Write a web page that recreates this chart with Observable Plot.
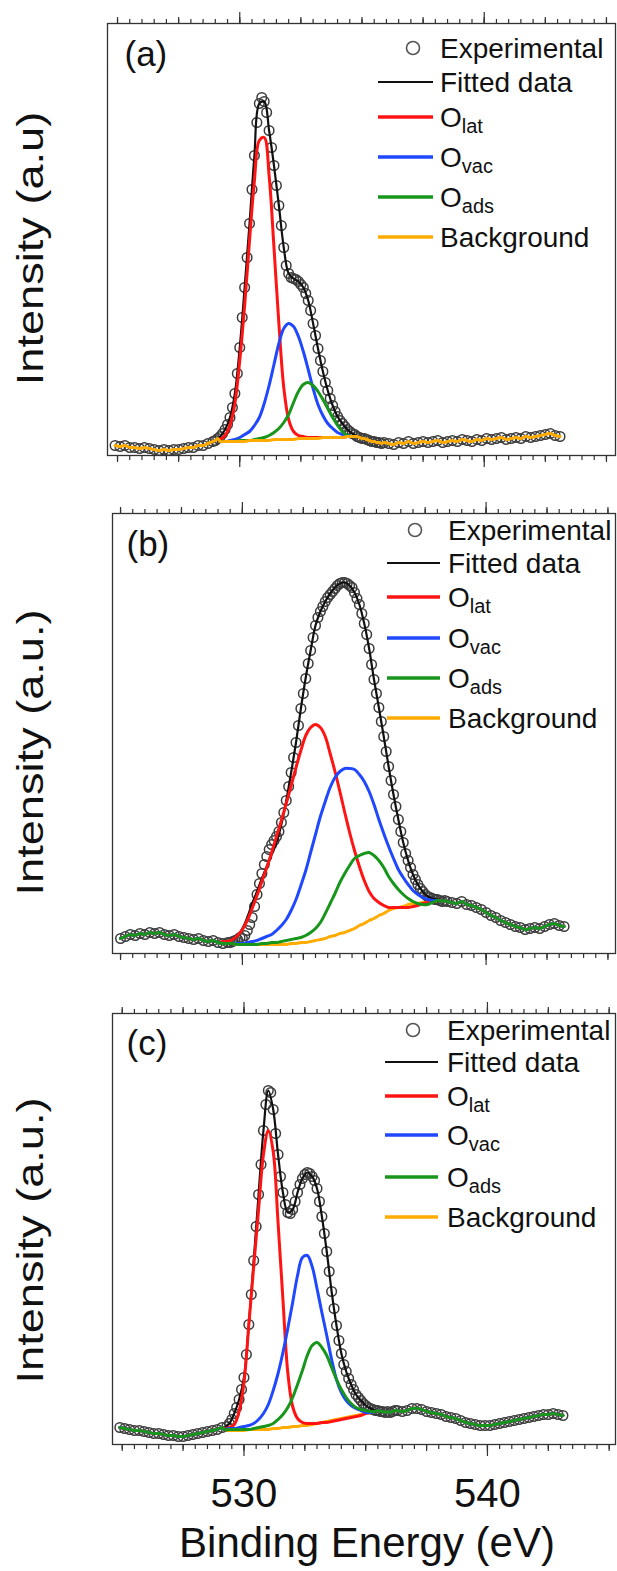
<!DOCTYPE html>
<html><head><meta charset="utf-8">
<script src="https://cdn.jsdelivr.net/npm/d3@7"></script>
<script src="https://cdn.jsdelivr.net/npm/@observablehq/plot@0.6"></script>
<style>
html,body{margin:0;padding:0;background:#fff;}
#page{position:relative;width:617px;height:1571px;overflow:hidden;font-family:"Liberation Sans",Arial,sans-serif;}
.panel{position:absolute;left:0;}
#legend{position:absolute;left:0;top:0;pointer-events:none;}
</style></head><body><div id="page"></div>
<script>
// energy grids (binding energy, eV)
const grid = (start, step, n) => Array.from({length: n}, (_, i) => +(start + i * step).toFixed(2));

// ---------- Panel (a) ----------
const energyA = [...grid(524.9, 0.2, 21), ...grid(529.0, 0.1, 70), ...grid(536.1, 0.2, 36)];
const expA = [
  10,9,10,8,8,7,8,7,6,5,6,5,6,6,7,8,8,10,10,12,14,
  15,17,19,22,26,31,38,48,62,82,
  108,138,168,198,232,266,300,333,352,358,
  354,343,325,308,290,270,250,230,208,190,
  182,178,177,176,174,171,168,162,155,145,
  132,120,107,95,84,73,65,57,50,44,
  39,35,32,29,26,24,22,21,19,18,
  17,17,16,15,14,14,13,13,12,13,
  12,11,13,12,14,12,13,14,13,14,15,13,14,15,14,16,15,14,16,15,17,16,17,18,16,17,18,17,19,18,19,20,21,22,20,19
];
const compEnergyA = grid(529.2, 0.2, 29);
const fittedA = [19,26,38,62,108,168,232,300,352,354,325,290,250,208,182,177,174,168,155,132,107,84,65,50,39,32,26,22,19];
const latA = [16,20,30,52,95,150,215,275,315,318,280,208,132,68,36,24,20,19,18,18,18,18,18,18,18,18,19,19,19];
const vacA = [14,14,15,16,18,21,24,30,38,52,70,91,112,127,132,129,119,104,86,67,51,40,32,27,23,21,20,19,19];
const adsA = [14,14,14,14,15,15,15,16,17,18,20,23,27,33,41,53,64,71,73,70,64,56,47,38,30,24,20,19,19];
const bgA  = [14,14,14,14,14,14,15,15,15,15,15,16,16,16,16,16,17,17,17,17,17,18,18,18,18,18,19,19,19];

// ---------- Panel (b) ----------
const energyB = [...grid(525.0, 0.2, 22), ...grid(529.4, 0.1, 91), ...grid(538.6, 0.2, 24)];
const expB = [
  15,17,19,18,20,19,21,20,21,19,18,19,17,16,15,14,15,13,12,13,11,10,
  11,11,12,13,14,16,
  15,18,23,29,36,47,59,70,80,89,
  97,104,109,113,117,122,131,141,153,167,
  181,196,211,228,245,260,275,290,303,316,
  328,336,342,347,352,356,359,362,365,368,
  370,371,371,370,368,366,361,355,349,340,
  330,319,305,289,274,260,246,232,217,202,
  187,173,159,147,134,122,111,100,93,86,
  79,74,69,65,62,59,57,56,55,54,
  54,53,52,53,52,
  51,50,52,49,48,46,44,41,38,36,33,31,29,27,26,24,25,26,25,27,29,30,28,27
];
const compEnergyB = grid(529.2, 0.2, 45);
const fittedB = [12,12,14,18,25,36,50,62,75,87,99,111,129,153,181,211,245,276,303,328,342,352,360,366,370,371,368,361,349,330,305,274,246,217,187,159,134,111,93,79,69,62,57,55,54];
const latB = [12,12,14,18,24,33,45,58,72,86,101,117,133,150,168,186,203,218,226,229,226,217,200,182,162,141,121,103,87,73,62,55,51,48,46,46,46,46,46,47,48,50,51,52,53];
const vacB = [10,10,10,10,10,11,12,13,15,17,19,23,28,34,43,54,68,83,101,119,137,152,166,176,182,185,185,184,179,172,162,149,134,120,107,95,84,76,69,63,59,56,54,53,53];
const adsB = [10,10,10,9,9,9,9,9,10,10,11,11,12,13,14,15,16,18,21,25,31,40,50,60,71,80,88,95,98,100,101,98,93,86,77,70,64,59,55,52,50,49,49,51,53];
const bgB  = [10,10,10,9,9,9,9,9,9,9,9,9,9,9,10,10,11,11,12,13,14,15,17,18,20,21,23,25,28,30,33,35,38,40,43,45,46,47,49,50,50,51,51,52,53];

// ---------- Panel (c) ----------
const energyC = [...grid(524.9, 0.2, 22), ...grid(529.3, 0.1, 70), ...grid(536.3, 0.2, 35)];
const expC = [
  17,16,15,14,14,13,12,11,11,10,9,9,8,8,9,10,11,12,13,14,15,17,
  18,21,25,31,37,45,55,
  67,90,120,150,184,218,250,280,314,340,
  354,352,335,311,290,268,252,240,232,231,
  235,243,252,260,266,270,272,271,268,264,
  256,243,228,211,193,173,153,136,119,104,
  91,80,73,66,60,55,50,47,44,41,
  39,37,36,35,34,34,33,33,32,33,
  32,33,34,
  34,33,34,36,36,35,33,32,31,30,28,27,26,24,22,21,20,19,19,19,20,21,22,23,24,25,26,27,28,29,30,30,31,30,29
];
const compEnergyC = grid(529.2, 0.2, 32);
const fittedC = [17,21,31,45,67,120,184,250,314,354,335,290,252,232,235,252,266,272,268,256,228,193,153,119,91,73,60,50,44,39,36,34];
const latC = [16,17,20,33,62,120,178,235,290,314,293,222,145,72,38,26,22,21,21,21,22,22,23,24,25,26,27,28,29,31,32,33];
const vacC = [15,16,16,17,18,19,21,25,31,40,54,71,92,116,142,169,187,189,178,156,132,109,85,65,52,44,39,36,34,32,32,33];
const adsC = [15,15,15,15,15,15,16,17,18,19,21,25,30,37,47,60,74,89,99,102,97,89,77,65,55,47,41,37,35,34,33,33];
const bgC  = [15,14,14,14,14,15,15,15,15,15,16,16,17,17,18,18,19,19,20,21,22,23,24,25,26,27,28,29,30,31,32,33];

// tick values and labels
const minorTicks = d3.range(525, 545.01, 0.5);
const midTicks = d3.range(525, 545.01, 2.5);
const majorTicks = [530, 540];
const legendLabels = [["Experimental"], ["Fitted data"], ["O", "lat"], ["O", "vac"], ["O", "ads"], ["Background"]];
const colors = {fit: "#111111", lat: "#ff1414", vac: "#1f48ff", ads: "#17961b", bg: "#ffab00", exp: "#3c3c3c"};

const pts = (E, V) => E.map((x, i) => ({x, y: V[i]}));
function merged(expE, expV, gE, gV) {
  const lo = gE[0] - 1e-6, hi = gE[gE.length - 1] + 1e-6;
  return pts(expE, expV).filter(d => d.x < lo || d.x > hi).concat(pts(gE, gV)).sort((a, b) => a.x - b.x);
}

const panels = [
  {tag: "(a)", ylabel: "Intensity (a.u)", top: 0, height: 480, mt: 23, mb: 25, ml: 107, domain: [524.59, 545.37], H: 432,
   E: energyA, exp: expA, gE: compEnergyA, fit: fittedA, lat: latA, vac: vacA, ads: adsA, bg: bgA,
   order: ["latG", "vacG", "adsG", "bgF"], ylab: [31, 248], tagPos: [124, 41]},
  {tag: "(b)", ylabel: "Intensity (a.u.)", top: 490, height: 490, mt: 23, mb: 27, ml: 112, domain: [524.67, 545.31], H: 440,
   E: energyB, exp: expB, gE: compEnergyB, fit: fittedB, lat: latB, vac: vacB, ads: adsB, bg: bgB,
   order: ["bgF", "latF", "vacF", "adsF"], ylab: [31, 752], tagPos: [126, 531]},
  {tag: "(c)", ylabel: "Intensity (a.u.)", top: 990, height: 581, mt: 23, mb: 127, ml: 112, domain: [524.6, 545.26], H: 431,
   E: energyC, exp: expC, gE: compEnergyC, fit: fittedC, lat: latC, vac: vacC, ads: adsC, bg: bgC,
   order: ["bgF", "latF", "vacF", "adsF"], ylab: [31, 1240], tagPos: [126, 1030], xlabels: true}
];

const page = document.getElementById("page");

for (const p of panels) {
  const tickStyle = {stroke: "#333", strokeWidth: 1.2, fill: "none", label: null};
  const expData = pts(p.E, p.exp);
  const fitLine = merged(p.E, p.exp, p.gE, p.fit);
  const lw = 3;
  const lineMarks = {
    latG: Plot.line(pts(p.gE, p.lat), {x: "x", y: "y", stroke: colors.lat, strokeWidth: lw, curve: "catmull-rom"}),
    vacG: Plot.line(pts(p.gE, p.vac), {x: "x", y: "y", stroke: colors.vac, strokeWidth: lw, curve: "catmull-rom"}),
    adsG: Plot.line(pts(p.gE, p.ads), {x: "x", y: "y", stroke: colors.ads, strokeWidth: lw, curve: "catmull-rom"}),
    bgF: Plot.line(merged(p.E, p.exp, p.gE, p.bg), {x: "x", y: "y", stroke: colors.bg, strokeWidth: lw, curve: "catmull-rom"}),
    latF: Plot.line(merged(p.E, p.exp, p.gE, p.lat), {x: "x", y: "y", stroke: colors.lat, strokeWidth: lw, curve: "catmull-rom"}),
    vacF: Plot.line(merged(p.E, p.exp, p.gE, p.vac), {x: "x", y: "y", stroke: colors.vac, strokeWidth: lw, curve: "catmull-rom"}),
    adsF: Plot.line(merged(p.E, p.exp, p.gE, p.ads), {x: "x", y: "y", stroke: colors.ads, strokeWidth: lw, curve: "catmull-rom"})
  };
  const marks = [
    Plot.dot(expData, {x: "x", y: "y", r: 4.8, stroke: colors.exp, strokeWidth: 1.5, fill: "none"}),
    Plot.line(fitLine, {x: "x", y: "y", stroke: colors.fit, strokeWidth: 2.2, curve: "catmull-rom"}),
    ...p.order.map(k => lineMarks[k]),
    Plot.frame({stroke: "#333", strokeWidth: 1.3}),
    Plot.axisX(minorTicks, {anchor: "bottom", tickSize: 5, ...tickStyle}),
    Plot.axisX(midTicks, {anchor: "bottom", tickSize: 7, ...tickStyle}),
    Plot.axisX(minorTicks, {anchor: "top", tickSize: 5, ...tickStyle}),
    Plot.axisX(midTicks, {anchor: "top", tickSize: 7, ...tickStyle}),
    Plot.axisX(majorTicks, {anchor: "top", tickSize: 12, ...tickStyle}),
    p.xlabels
      ? Plot.axisX(majorTicks, {anchor: "bottom", tickSize: 12, tickPadding: 22, stroke: "#333", strokeWidth: 1.2, fill: "#111", fontSize: 40, label: null, tickFormat: d => String(d)})
      : Plot.axisX(majorTicks, {anchor: "bottom", tickSize: 12, ...tickStyle}),
    Plot.text([p.tag], {text: d => d, frameAnchor: "top-left", textAnchor: "start", lineAnchor: "top",
      dx: p.tagPos[0] - p.ml, dy: p.tagPos[1] - (p.top + p.mt), fontSize: 35, fill: "#111"}),
    Plot.text([p.ylabel], {text: d => d, frameAnchor: "left", rotate: -90, textAnchor: "middle", lineAnchor: "middle",
      dx: p.ylab[0] - p.ml, dy: p.ylab[1] - (p.top + p.mt + (p.height - p.mt - p.mb) / 2), fontSize: 37, fill: "#111"})
  ];
  if (p.xlabels) {
    marks.push(Plot.text(["Binding Energy (eV)"], {text: d => d, frameAnchor: "bottom", lineAnchor: "middle",
      dx: 3, dy: 99, fontSize: 42, fill: "#111"}));
  }
  const svg = Plot.plot({
    width: 617, height: p.height,
    marginTop: p.mt, marginBottom: p.mb, marginLeft: p.ml, marginRight: 2,
    x: {domain: p.domain, axis: null},
    y: {domain: [0, p.H], axis: null},
    style: {fontFamily: "'Liberation Sans', Arial, sans-serif", background: "transparent", color: "#111", overflow: "visible"},
    marks
  });
  // stretch the rotated y label along its length, as in the original figure
  d3.select(svg).selectAll("text").filter(function() { return this.textContent.startsWith("Intensity"); })
    .each(function() {
      const t = this.getAttribute("transform") || "";
      this.setAttribute("transform", t + " scale(1.22,1)");
    });
  svg.classList.add("panel");
  svg.style.top = p.top + "px";
  page.appendChild(svg);
}

// ---------- legends (one per panel) ----------
const legendLayout = [
  {circle: [413, 48], x1: 378, x2: 433, tx: 440, rows: [48, 82, 117, 157, 197, 237]},
  {circle: [415, 530], x1: 387, x2: 440, tx: 448, rows: [530, 563, 597, 638, 678, 718]},
  {circle: [413, 1030], x1: 385, x2: 438, tx: 447, rows: [1030, 1062, 1096, 1135, 1177, 1217]}
];
const swatchColors = [null, colors.fit, colors.lat, colors.vac, colors.ads, colors.bg];
const leg = d3.create("svg").attr("id", "legend").attr("width", 617).attr("height", 1571)
  .style("font-family", "'Liberation Sans', Arial, sans-serif");
for (const L of legendLayout) {
  leg.append("circle").attr("cx", L.circle[0]).attr("cy", L.circle[1]).attr("r", 6.5)
    .attr("fill", "none").attr("stroke", "#555").attr("stroke-width", 1.6);
  legendLabels.forEach((lab, i) => {
    const y = L.rows[i];
    if (swatchColors[i]) {
      leg.append("line").attr("x1", L.x1).attr("x2", L.x2).attr("y1", y).attr("y2", y)
        .attr("stroke", swatchColors[i]).attr("stroke-width", i === 1 ? 2.2 : 3.4);
    }
    const t = leg.append("text").attr("x", L.tx).attr("y", y + 10).attr("font-size", 28).attr("fill", "#111");
    t.append("tspan").text(lab[0]);
    if (lab[1]) t.append("tspan").attr("font-size", 20).attr("dy", 6).text(lab[1]);
  });
}
page.appendChild(leg.node());
</script></body></html>
